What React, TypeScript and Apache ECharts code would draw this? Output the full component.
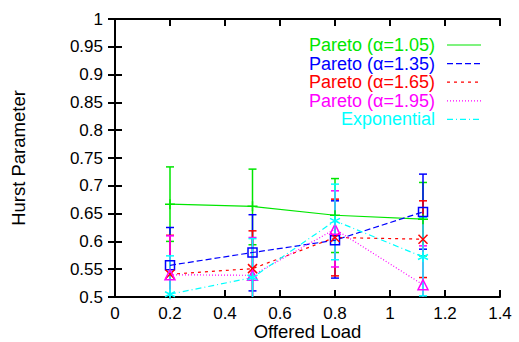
import React, { useEffect, useRef } from "react";
import * as echarts from "echarts";

const xLoads = [0.2, 0.5, 0.8, 1.12];

const seriesNames = [
  "Pareto (\u03b1=1.05)",
  "Pareto (\u03b1=1.35)",
  "Pareto (\u03b1=1.65)",
  "Pareto (\u03b1=1.95)",
  "Exponential",
];
const seriesColors = ["#00e600", "#0000ff", "#ff0000", "#ff00ff", "#00ffff"];

const pareto105 = [0.667, 0.663, 0.647, 0.64];
const pareto105Low = [0.6, 0.594, 0.58, 0.574];
const pareto105High = [0.734, 0.73, 0.713, 0.706];

const pareto135 = [0.557, 0.58, 0.602, 0.653];
const pareto135Low = [0.488, 0.511, 0.534, 0.586];
const pareto135High = [0.625, 0.648, 0.673, 0.721];

const pareto165 = [0.541, 0.551, 0.607, 0.604];
const pareto165Low = [0.471, 0.482, 0.538, 0.535];
const pareto165High = [0.611, 0.619, 0.676, 0.673];

const pareto195 = [0.54, 0.539, 0.622, 0.522];
const pareto195Low = [0.47, 0.47, 0.554, 0.452];
const pareto195High = [0.61, 0.607, 0.691, 0.592];

const expo = [0.505, 0.535, 0.637, 0.572];
const expoLow = [0.436, 0.466, 0.567, 0.502];
const expoHigh = [0.574, 0.605, 0.703, 0.643];

const xTicks = { min: 0, max: 1.4, interval: 0.2 };
const yTicks = { min: 0.5, max: 1, interval: 0.05 };

const FONT = "'Liberation Sans', Arial, Helvetica, sans-serif";

const W = 519;
const H = 342;
const GRID = { left: 115, top: 19, right: 19, bottom: 45 };

const values = [pareto105, pareto135, pareto165, pareto195, expo];
const lows = [pareto105Low, pareto135Low, pareto165Low, pareto195Low, expoLow];
const highs = [pareto105High, pareto135High, pareto165High, pareto195High, expoHigh];

const symbols = [
  "path://M5,0L5,10M0,5L10,5",
  "path://M0,0L10,0L10,10L0,10Z",
  "path://M0,0L10,10M10,0L0,10",
  "path://M5,0L10,9L0,9Z",
  "path://M5,0L5,10M0.7,2.5L9.3,7.5M0.7,7.5L9.3,2.5",
];
const symbolSizes = [10, 9, 9, 10, 10];
const lineDashes: any[] = ["solid", [6, 3], [3, 4], [1, 2], [6, 3, 1, 3]];

export default function App() {
  const ref = useRef<HTMLDivElement>(null);
  useEffect(() => {
    if (!ref.current) return;
    const chart = echarts.init(ref.current, null, { renderer: "svg" });

    const series: any[] = [];
    values.forEach((vals, i) => {
      const color = seriesColors[i];
      series.push({
        type: "custom",
        name: seriesNames[i] + " err",
        clip: true,
        data: xLoads.map((x, j) => [x, lows[i][j], highs[i][j]]),
        encode: { x: 0, y: [1, 2] },
        renderItem: (params: any, api: any) => {
          const x = api.value(0);
          const p1 = api.coord([x, api.value(1)]);
          const p2 = api.coord([x, api.value(2)]);
          const w = 4;
          const style = { stroke: color, lineWidth: 1.5 };
          return {
            type: "group",
            children: [
              { type: "line", shape: { x1: p1[0], y1: p1[1], x2: p2[0], y2: p2[1] }, style },
              { type: "line", shape: { x1: p1[0] - w, y1: p1[1], x2: p1[0] + w, y2: p1[1] }, style },
              { type: "line", shape: { x1: p2[0] - w, y1: p2[1], x2: p2[0] + w, y2: p2[1] }, style },
            ],
          };
        },
      });
      series.push({
        type: "line",
        name: seriesNames[i],
        data: xLoads.map((x, j) => [x, vals[j]]),
        symbol: symbols[i],
        symbolSize: symbolSizes[i],
        showSymbol: true,
        showAllSymbol: true,
        lineStyle: { color, width: 1.2, type: lineDashes[i] },
        itemStyle: { color: "transparent", borderColor: color, borderWidth: 1.5 },
        emphasis: { disabled: true },
      });
    });

    // legend drawn with graphic
    const legendTextX = 435;
    const legendLineX1 = 447;
    const legendLineX2 = 481;
    const legendY0 = 45;
    const legendDy = 18.6;
    const graphic: any[] = [];
    seriesNames.forEach((n, i) => {
      const y = legendY0 + i * legendDy;
      graphic.push({
        type: "text",
        x: legendTextX,
        y,
        style: {
          text: n,
          fill: seriesColors[i],
          font: `18px ${FONT}`,
          align: "right",
          verticalAlign: "middle",
        },
      });
      graphic.push({
        type: "line",
        shape: { x1: legendLineX1, y1: y, x2: legendLineX2, y2: y },
        style: {
          stroke: seriesColors[i],
          lineWidth: 1.2,
          lineDash: lineDashes[i] === "solid" ? null : lineDashes[i],
        },
      });
    });

    const axisLine = { show: true, lineStyle: { color: "#000", width: 2 } };
    const axisTick = { show: true, inside: true, length: 7, lineStyle: { color: "#000", width: 2 } };
    const axisLabel = { color: "#000", fontSize: 17, fontFamily: FONT };

    chart.setOption({
      animation: false,
      backgroundColor: "#fff",
      grid: { ...GRID, containLabel: false, outerBoundsMode: "none" },
      xAxis: [
        {
          type: "value",
          ...xTicks,
          position: "bottom",
          axisLine,
          axisTick,
          splitLine: { show: false },
          axisLabel: { ...axisLabel, margin: 9, lineHeight: 14 },
          name: "Offered Load",
          nameLocation: "middle",
          nameGap: 27,
          nameMoveOverlap: false,
          nameTextStyle: { color: "#000", fontSize: 18.5, fontFamily: FONT, lineHeight: 14 },
        },
        {
          type: "value",
          ...xTicks,
          position: "top",
          axisLine,
          axisTick,
          splitLine: { show: false },
          axisLabel: { show: false },
        },
      ],
      yAxis: [
        {
          type: "value",
          ...yTicks,
          position: "left",
          axisLine,
          axisTick,
          splitLine: { show: false },
          axisLabel: { ...axisLabel, margin: 12 },
          name: "Hurst Parameter",
          nameLocation: "middle",
          nameGap: 87,
          nameTextStyle: { color: "#000", fontSize: 18.5, fontFamily: FONT },
        },
        {
          type: "value",
          ...yTicks,
          position: "right",
          axisLine,
          axisTick,
          splitLine: { show: false },
          axisLabel: { show: false },
        },
      ],
      series,
      graphic,
    });
    return () => chart.dispose();
  }, []);
  return (
    <div
      ref={ref}
      style={{ position: "fixed", left: 0, top: 0, width: W, height: H }}
    />
  );
}
